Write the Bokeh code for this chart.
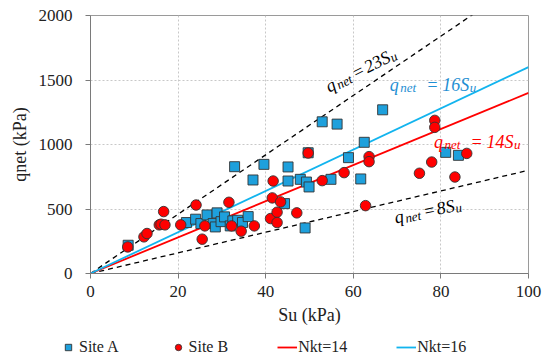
import math
from bokeh.plotting import figure
from bokeh.layouts import column
from bokeh.models import Legend, LegendItem, Label, FixedTicker, Range1d
from bokeh.embed import file_html
from bokeh.resources import INLINE

# Site A (squares)
site_a_su = [8.6, 21.9, 24.0, 25.2, 26.6, 28.0, 28.5, 28.9, 29.8, 30.6, 31.9, 32.5, 33.6, 34.7, 36.0,
             32.9, 37.1, 39.6, 44.3, 45.1, 45.1, 47.9, 49.3, 49.9, 49.0, 49.7, 52.9, 56.3, 54.9, 58.9,
             61.7, 62.5, 66.7, 81.1, 84.0]
site_a_q = [219, 395, 421, 387, 454, 387, 361, 470, 402, 439, 369, 408, 413, 395, 441,
            828, 725, 846, 542, 826, 717, 730, 709, 671, 353, 936, 1176, 1158, 730, 898,
            733, 1017, 1269, 939, 916]

# Site B (circles)
site_b_su = [8.5, 12.2, 12.9, 15.7, 16.1, 16.7, 17.0, 20.6, 24.1, 25.5, 26.1, 31.6, 32.2, 34.4, 37.4,
             41.1, 41.5, 41.7, 42.6, 42.6, 43.4, 47.1, 49.7, 52.9, 57.9, 62.8, 63.6, 63.6, 75.1, 77.9,
             78.6, 78.6, 83.2, 85.9]
site_b_q = [206, 284, 310, 377, 382, 480, 377, 377, 531, 266, 369, 552, 369, 328, 369,
            426, 586, 717, 475, 395, 555, 470, 934, 720, 782, 526, 906, 867, 777, 864,
            1187, 1133, 748, 931]

line_su = [0, 100]
nkt_values = [14, 16]
bound_values = [23, 8]
x_ticks = [0, 20, 40, 60, 80, 100]
y_ticks = [0, 500, 1000, 1500, 2000]
legend_labels = ["Site A", "Site B", "Nkt=14", "Nkt=16"]

SERIF = "Liberation Serif, Times New Roman, serif"
RED = "#ff0000"
BLUE_FILL = "#1ea0dc"
BLUE_LINE = "#12b4ee"
BLUE_TEXT = "#1f8fd3"
AXIS_GRAY = "#7a7a7a"
SQ_STYLE = dict(marker="square", fill_color=BLUE_FILL, line_color="#333333", line_width=0.9)
CI_STYLE = dict(marker="circle", fill_color=RED, line_color="#333333", line_width=0.9)

p = figure(frame_width=438, frame_height=258, x_range=(0, 100), y_range=(0, 2000),
           output_backend="svg", toolbar_location=None,
           min_border_left=90, min_border_right=22, min_border_top=15, min_border_bottom=58)
p.frame_align = False

p.outline_line_color = "#9a9a9a"
p.outline_line_width = 1
for ax in (p.xaxis[0], p.yaxis[0]):
    ax.axis_line_color = AXIS_GRAY
    ax.major_tick_line_color = AXIS_GRAY
    ax.minor_tick_line_color = None
    ax.major_tick_in = 0
    ax.major_tick_out = 5
    ax.major_label_text_font = SERIF
    ax.major_label_text_font_size = "17px"
    ax.major_label_text_color = "#222222"
    ax.axis_label_text_font = SERIF
    ax.axis_label_text_font_size = "18px"
    ax.axis_label_text_font_style = "normal"
    ax.axis_label_text_color = "#222222"

p.xaxis.ticker = FixedTicker(ticks=x_ticks)
p.yaxis.ticker = FixedTicker(ticks=y_ticks)
p.xaxis.axis_label = "Su (kPa)"
p.yaxis.axis_label = "qnet (kPa)"
p.xaxis.major_label_standoff = 7
p.yaxis.major_label_standoff = 13
p.xaxis.axis_label_standoff = 5
p.yaxis.axis_label_standoff = 6

for g in (p.xgrid[0], p.ygrid[0]):
    g.grid_line_color = "#c8c8c8"
    g.grid_line_dash = "2 2"
    g.grid_line_width = 1
p.xgrid.ticker = FixedTicker(ticks=x_ticks)
p.ygrid.ticker = FixedTicker(ticks=y_ticks)

# bound lines
for k in bound_values:
    p.line(line_su, [k * s for s in line_su], line_color="black", line_dash="5 4", line_width=1.3)

p.line(line_su, [nkt_values[0] * s for s in line_su], line_color=RED, line_width=1.8)
p.line(line_su, [nkt_values[1] * s for s in line_su], line_color=BLUE_LINE, line_width=1.8)

p.scatter(site_a_su, site_a_q, size=10, **SQ_STYLE)
p.scatter(site_b_su, site_b_q, size=10.5, **CI_STYLE)

# equation annotations composed of main text and subscripts
LAB_FONT = "Liberation Serif"
MAIN_SIZE = 18
SUB_SIZE = 13
SUB_DROP = 3.0


def equation(x, y, angle, color, coef, spaced):
    if spaced:
        eq_at, coef_at = 36.5, 52.5
    else:
        eq_at, coef_at = 29.5, 43.0
    pieces = [("q", 0, False), ("net", 10.5, True), ("=", eq_at, False),
              (f"{coef}S", coef_at, False), ("u", coef_at + 9 * len(coef) + 9.5, True)]
    ca, sa = math.cos(angle), math.sin(angle)
    for txt, d, sub in pieces:
        drop = SUB_DROP if sub else 0.0
        xo = d * ca + drop * sa
        yo = d * sa - drop * ca
        p.add_layout(Label(x=x, y=y, x_offset=xo, y_offset=yo, text=txt, angle=angle,
                           text_color=color, text_font=LAB_FONT, text_font_style="italic",
                           text_font_size=f"{SUB_SIZE if sub else MAIN_SIZE}px",
                           text_baseline="alphabetic", text_align="left"))


equation(53.9, 1442, 0.47, "black", "23", False)
equation(68.3, 1465, 0.0, BLUE_TEXT, "16", True)
equation(78.4, 1023, 0.0, RED, "14", True)
equation(69.4, 434, 0.2, "black", "8", False)

# legend strip below the chart (own frame, not aligned to the chart frame)
lf = figure(width=550, height=30, x_range=Range1d(0, 1), y_range=Range1d(0, 1),
            x_axis_type=None, y_axis_type=None, output_backend="svg", toolbar_location=None,
            min_border=0, outline_line_color=None)
lf.frame_align = False
hidden = [-5]
la = lf.scatter(hidden, hidden, size=7.5, **SQ_STYLE)
lb = lf.scatter(hidden, hidden, size=7.5, **CI_STYLE)
l14 = lf.line(hidden * 2, hidden * 2, line_color=RED, line_width=1.8)
l16 = lf.line(hidden * 2, hidden * 2, line_color=BLUE_LINE, line_width=1.8)

legend = Legend(items=[
    LegendItem(label=legend_labels[0], renderers=[la]),
    LegendItem(label=legend_labels[1], renderers=[lb]),
    LegendItem(label=legend_labels[2], renderers=[l14]),
    LegendItem(label=legend_labels[3], renderers=[l16]),
], orientation="horizontal", location=(58, 5))
legend.label_text_font = SERIF
legend.label_text_font_size = "16px"
legend.label_text_color = "#222222"
legend.border_line_color = None
legend.background_fill_alpha = 0
legend.glyph_width = 20
legend.glyph_height = 16
legend.label_height = 16
legend.label_standoff = 1
legend.spacing = 49
legend.padding = 0
legend.margin = 0
lf.add_layout(legend)

open("out.html", "w").write(file_html(column(p, lf, spacing=0), INLINE))
